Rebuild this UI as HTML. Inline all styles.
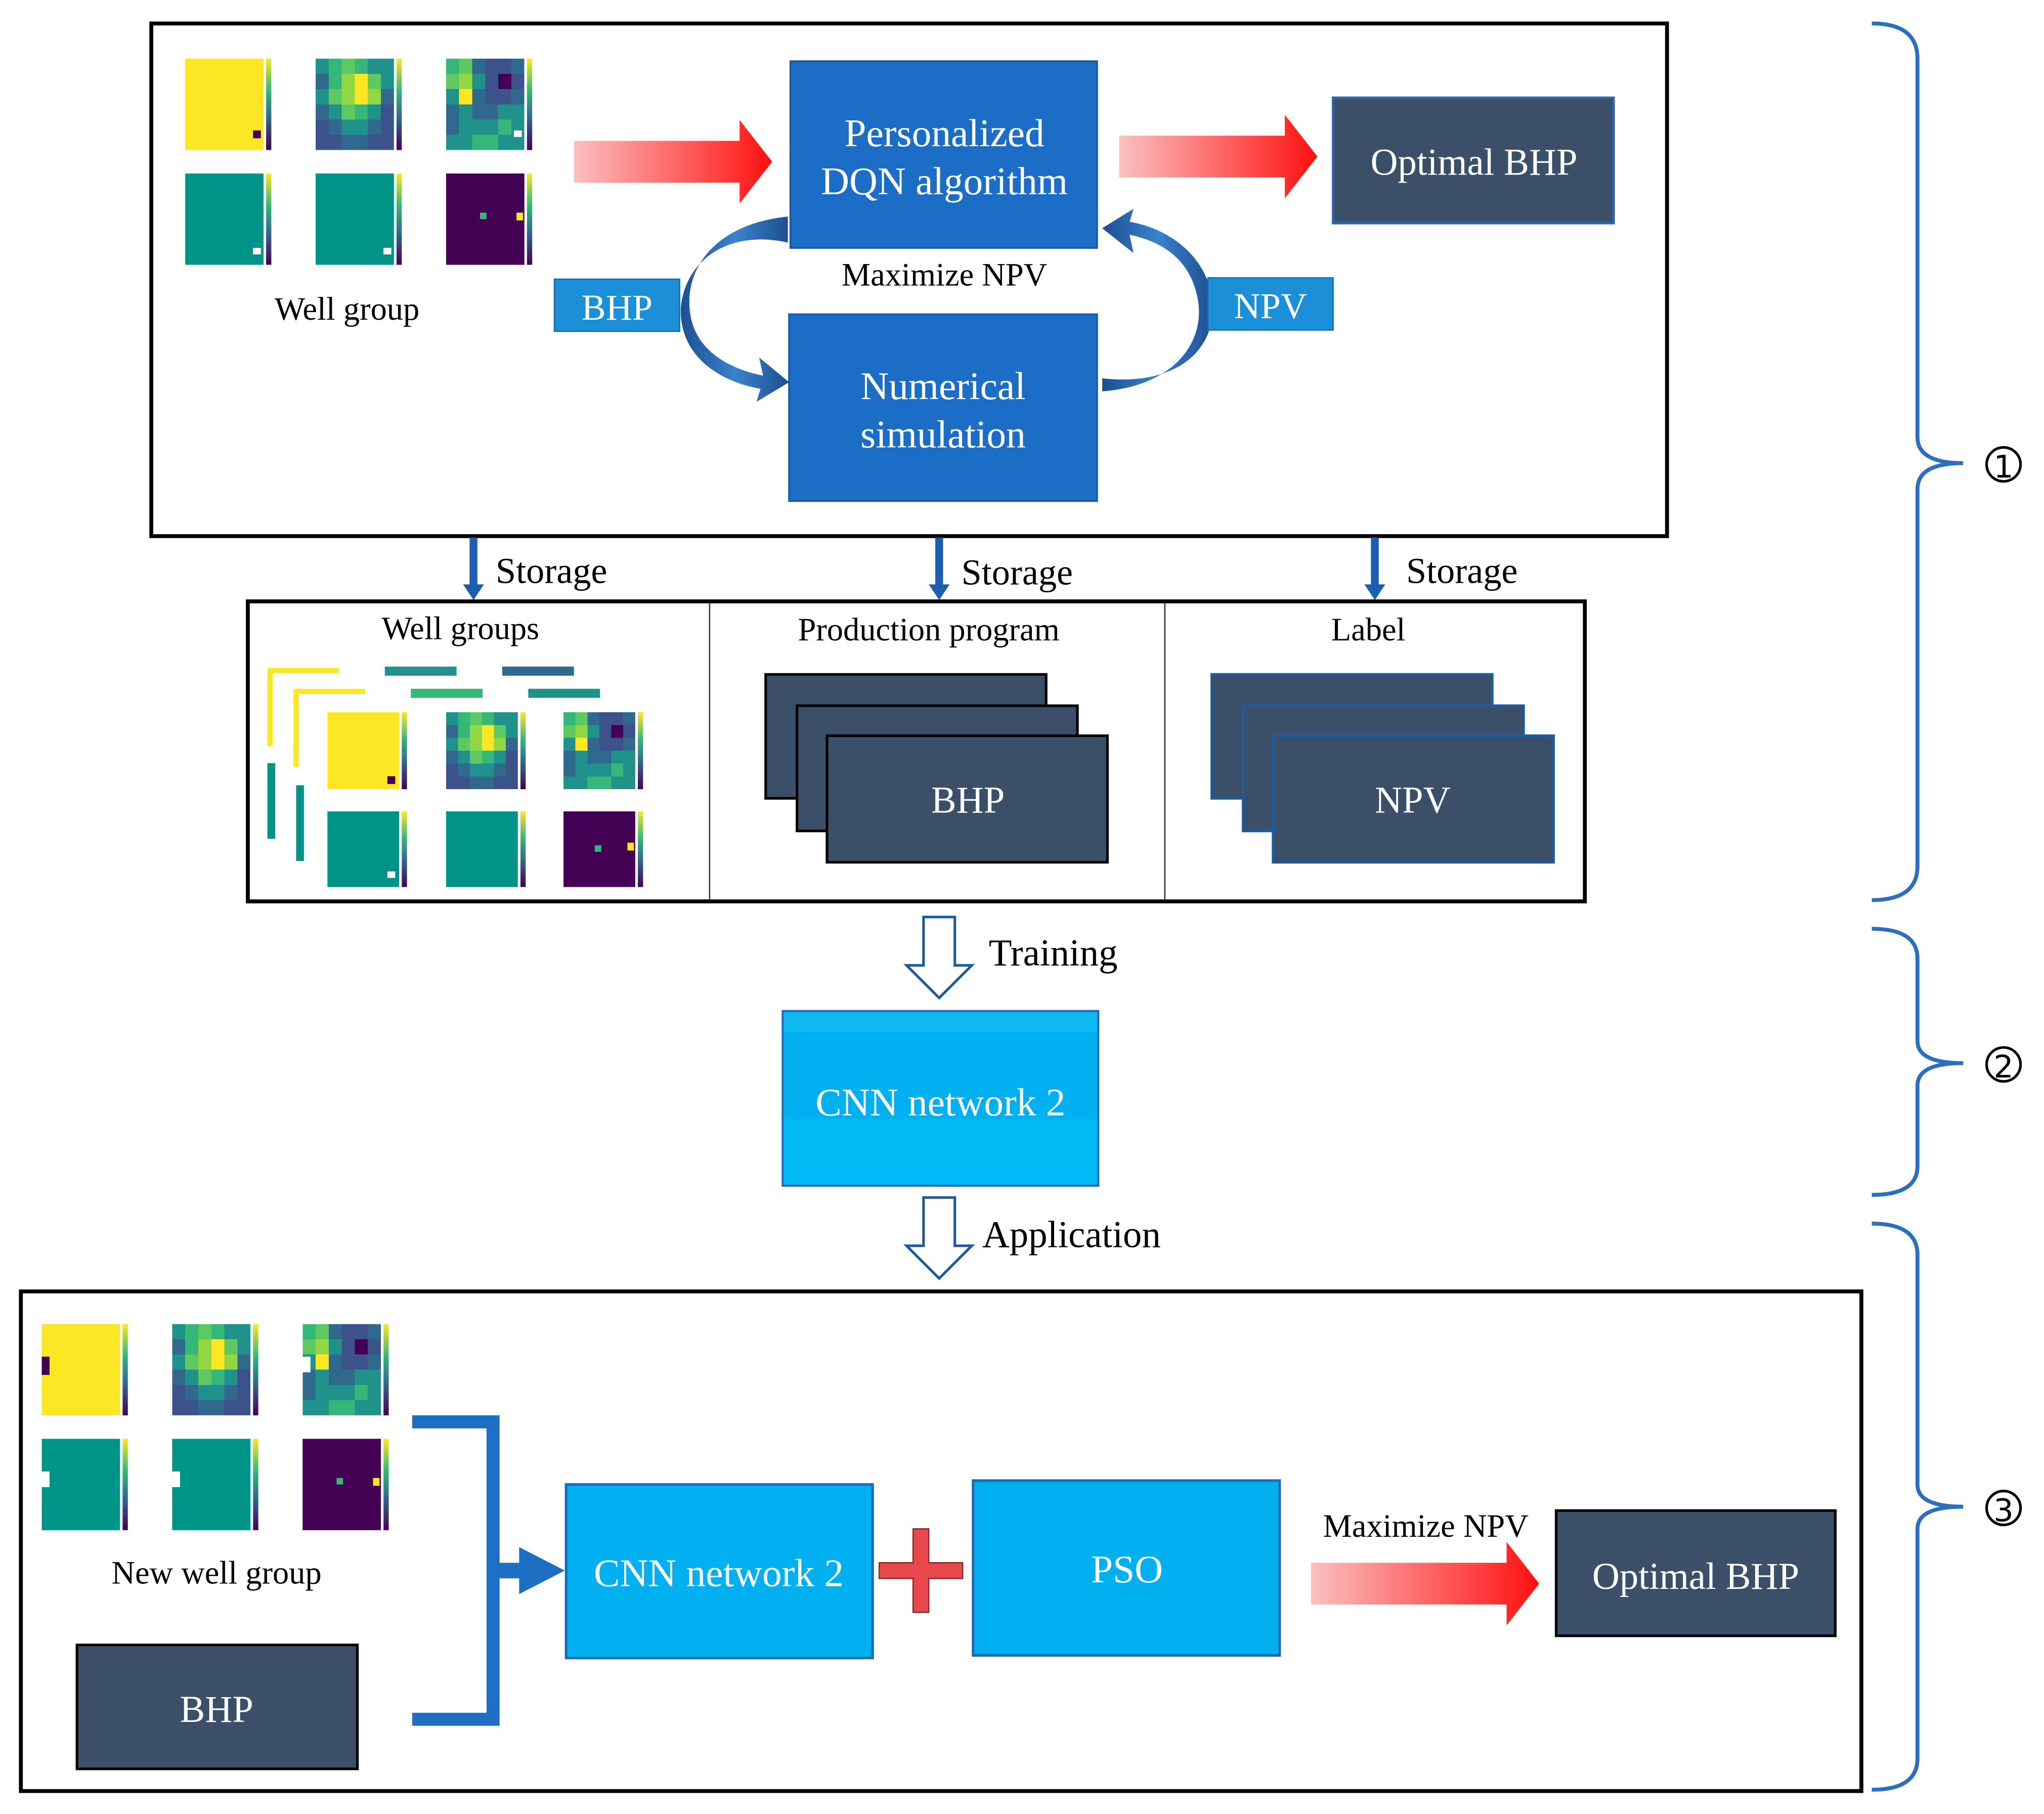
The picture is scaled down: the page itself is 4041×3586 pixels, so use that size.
<!DOCTYPE html>
<html><head><meta charset="utf-8"><style>
html,body{margin:0;padding:0;background:#fff;}
svg{display:block;}
text{font-family:"Liberation Serif",serif;}
</style></head><body>
<svg width="4041" height="3586" viewBox="0 0 1567 1390.6" preserveAspectRatio="none" xmlns="http://www.w3.org/2000/svg">
<defs>
<linearGradient id="red" x1="0" x2="1" y1="0" y2="0"><stop offset="0" stop-color="#fbc0c0"/><stop offset="1" stop-color="#ff1010"/></linearGradient>
<linearGradient id="vir" x1="0" x2="0" y1="1" y2="0"><stop offset="0" stop-color="#440154"/><stop offset="0.35" stop-color="#31688e"/><stop offset="0.65" stop-color="#35b779"/><stop offset="1" stop-color="#fde725"/></linearGradient>
<linearGradient id="curv" x1="0" x2="1"><stop offset="0" stop-color="#1d4f90"/><stop offset="0.5" stop-color="#3a82cc"/><stop offset="1" stop-color="#1d4f90"/></linearGradient>
<symbol id="hmA" viewBox="0 0 6 6" preserveAspectRatio="none">
<g shape-rendering="crispEdges">
<rect x="0" y="0" width="1" height="1" fill="#21918c"/><rect x="1" y="0" width="1" height="1" fill="#35b779"/><rect x="2" y="0" width="1" height="1" fill="#5ec962"/><rect x="3" y="0" width="1" height="1" fill="#35b779"/><rect x="4" y="0" width="1" height="1" fill="#21918c"/><rect x="5" y="0" width="1" height="1" fill="#21918c"/>
<rect x="0" y="1" width="1" height="1" fill="#31688e"/><rect x="1" y="1" width="1" height="1" fill="#35b779"/><rect x="2" y="1" width="1" height="1" fill="#90d743"/><rect x="3" y="1" width="1" height="1" fill="#fde725"/><rect x="4" y="1" width="1" height="1" fill="#5ec962"/><rect x="5" y="1" width="1" height="1" fill="#21918c"/>
<rect x="0" y="2" width="1" height="1" fill="#21918c"/><rect x="1" y="2" width="1" height="1" fill="#5ec962"/><rect x="2" y="2" width="1" height="1" fill="#90d743"/><rect x="3" y="2" width="1" height="1" fill="#fde725"/><rect x="4" y="2" width="1" height="1" fill="#90d743"/><rect x="5" y="2" width="1" height="1" fill="#31688e"/>
<rect x="0" y="3" width="1" height="1" fill="#31688e"/><rect x="1" y="3" width="1" height="1" fill="#21918c"/><rect x="2" y="3" width="1" height="1" fill="#5ec962"/><rect x="3" y="3" width="1" height="1" fill="#35b779"/><rect x="4" y="3" width="1" height="1" fill="#21918c"/><rect x="5" y="3" width="1" height="1" fill="#3b528b"/>
<rect x="0" y="4" width="1" height="1" fill="#3b528b"/><rect x="1" y="4" width="1" height="1" fill="#31688e"/><rect x="2" y="4" width="1" height="1" fill="#21918c"/><rect x="3" y="4" width="1" height="1" fill="#21918c"/><rect x="4" y="4" width="1" height="1" fill="#31688e"/><rect x="5" y="4" width="1" height="1" fill="#3b528b"/>
<rect x="0" y="5" width="1" height="1" fill="#3b528b"/><rect x="1" y="5" width="1" height="1" fill="#3b528b"/><rect x="2" y="5" width="1" height="1" fill="#31688e"/><rect x="3" y="5" width="1" height="1" fill="#31688e"/><rect x="4" y="5" width="1" height="1" fill="#3b528b"/><rect x="5" y="5" width="1" height="1" fill="#3b528b"/>
</g></symbol>
<symbol id="hmB" viewBox="0 0 6 6" preserveAspectRatio="none">
<g shape-rendering="crispEdges">
<rect x="0" y="0" width="1" height="1" fill="#35b779"/><rect x="1" y="0" width="1" height="1" fill="#5ec962"/><rect x="2" y="0" width="1" height="1" fill="#31688e"/><rect x="3" y="0" width="1" height="1" fill="#3b528b"/><rect x="4" y="0" width="1" height="1" fill="#3b528b"/><rect x="5" y="0" width="1" height="1" fill="#31688e"/>
<rect x="0" y="1" width="1" height="1" fill="#5ec962"/><rect x="1" y="1" width="1" height="1" fill="#90d743"/><rect x="2" y="1" width="1" height="1" fill="#21918c"/><rect x="3" y="1" width="1" height="1" fill="#3b528b"/><rect x="4" y="1" width="1" height="1" fill="#440154"/><rect x="5" y="1" width="1" height="1" fill="#3b528b"/>
<rect x="0" y="2" width="1" height="1" fill="#21918c"/><rect x="1" y="2" width="1" height="1" fill="#fde725"/><rect x="2" y="2" width="1" height="1" fill="#31688e"/><rect x="3" y="2" width="1" height="1" fill="#3b528b"/><rect x="4" y="2" width="1" height="1" fill="#3b528b"/><rect x="5" y="2" width="1" height="1" fill="#31688e"/>
<rect x="0" y="3" width="1" height="1" fill="#31688e"/><rect x="1" y="3" width="1" height="1" fill="#21918c"/><rect x="2" y="3" width="1" height="1" fill="#31688e"/><rect x="3" y="3" width="1" height="1" fill="#31688e"/><rect x="4" y="3" width="1" height="1" fill="#21918c"/><rect x="5" y="3" width="1" height="1" fill="#21918c"/>
<rect x="0" y="4" width="1" height="1" fill="#31688e"/><rect x="1" y="4" width="1" height="1" fill="#21918c"/><rect x="2" y="4" width="1" height="1" fill="#21918c"/><rect x="3" y="4" width="1" height="1" fill="#21918c"/><rect x="4" y="4" width="1" height="1" fill="#35b779"/><rect x="5" y="4" width="1" height="1" fill="#21918c"/>
<rect x="0" y="5" width="1" height="1" fill="#21918c"/><rect x="1" y="5" width="1" height="1" fill="#21918c"/><rect x="2" y="5" width="1" height="1" fill="#35b779"/><rect x="3" y="5" width="1" height="1" fill="#35b779"/><rect x="4" y="5" width="1" height="1" fill="#21918c"/><rect x="5" y="5" width="1" height="1" fill="#21918c"/>
</g></symbol>
<symbol id="set" viewBox="0 0 280 160" overflow="visible">
<rect x="0" y="0" width="60" height="70" fill="#fde725"/><rect x="62" y="0" width="4" height="70" fill="url(#vir)"/>
<use href="#hmA" x="100" y="0" width="60" height="70"/><rect x="162" y="0" width="4" height="70" fill="url(#vir)"/>
<use href="#hmB" x="200" y="0" width="60" height="70"/><rect x="262" y="0" width="4" height="70" fill="url(#vir)"/>
<rect x="0" y="88" width="60" height="70" fill="#009388"/><rect x="62" y="88" width="4" height="70" fill="url(#vir)"/>
<rect x="100" y="88" width="60" height="70" fill="#009388"/><rect x="162" y="88" width="4" height="70" fill="url(#vir)"/>
<rect x="200" y="88" width="60" height="70" fill="#440154"/><rect x="262" y="88" width="4" height="70" fill="url(#vir)"/>
<rect x="226" y="118" width="5" height="5" fill="#35b779"/><rect x="254" y="118" width="5" height="6" fill="#fde725"/>
</symbol>
</defs>

<rect x="116" y="18" width="1162" height="393" fill="#fff" stroke="#000" stroke-width="3"/>
<use href="#set" x="142" y="45" width="280" height="160"/>
<rect x="194" y="100" width="6" height="6" fill="#440154"/>
<rect x="194" y="190" width="6" height="5" fill="#fff"/><rect x="294" y="190" width="6" height="5" fill="#fff"/>
<rect x="394" y="100" width="6" height="5" fill="#fff"/>
<text x="266" y="245" font-size="25" text-anchor="middle">Well group</text>

<path d="M440,108 L567,108 L567,92 L592,124 L567,156 L567,140 L440,140 Z" fill="url(#red)"/>
<path d="M858,104 L985,104 L985,88 L1010,120 L985,152 L985,136 L858,136 Z" fill="url(#red)"/>

<rect x="606" y="47" width="235" height="143" fill="#1b6dc6" stroke="#1a5aa8" stroke-width="1.5"/>
<text x="724" y="112" font-size="30" fill="#fff" text-anchor="middle">Personalized</text>
<text x="724" y="149" font-size="30" fill="#fff" text-anchor="middle">DQN algorithm</text>

<rect x="1022" y="75" width="215" height="96" fill="#3b5068" stroke="#2a66b0" stroke-width="2"/>
<text x="1130" y="134" font-size="29" fill="#fff" text-anchor="middle">Optimal BHP</text>

<text x="724" y="219" font-size="25" text-anchor="middle">Maximize NPV</text>

<rect x="605" y="241" width="236" height="143" fill="#1b6dc6" stroke="#1a5aa8" stroke-width="1.5"/>
<text x="723" y="306" font-size="30" fill="#fff" text-anchor="middle">Numerical</text>
<text x="723" y="343" font-size="30" fill="#fff" text-anchor="middle">simulation</text>

<path d="M604,166 C545,172 522,210 530,245 C536,270 560,283 585,288 L582,274 L605,293 L580,308 L583,298 C548,292 520,270 522,235 C526,198 560,176 604,186 Z" fill="url(#curv)"/>
<path d="M845,300 C900,296 925,262 918,228 C912,198 890,185 866,180 L869,194 L845,175 L869,160 L866,170 C900,176 928,200 930,235 C930,272 898,296 845,290 Z" fill="url(#curv)"/>

<rect x="425" y="214" width="96" height="40" fill="#1b8fd8" stroke="#1a6ab0"/>
<text x="473" y="245" font-size="28" fill="#fff" text-anchor="middle">BHP</text>
<rect x="926" y="213" width="96" height="40" fill="#1b8fd8" stroke="#1a6ab0"/>
<text x="974" y="244" font-size="28" fill="#fff" text-anchor="middle">NPV</text>

<g fill="#1c5fb0">
<path d="M360,412 h6 v36 h5 l-8,12 l-8,-12 h5 Z"/>
<path d="M717,412 h6 v36 h5 l-8,12 l-8,-12 h5 Z"/>
<path d="M1051,412 h6 v36 h5 l-8,12 l-8,-12 h5 Z"/>
</g>
<text x="380" y="447" font-size="28">Storage</text>
<text x="737" y="448" font-size="28">Storage</text>
<text x="1078" y="447" font-size="28">Storage</text>

<rect x="190" y="461" width="1025" height="230" fill="#fff" stroke="#000" stroke-width="3"/>
<line x1="544" y1="462" x2="544" y2="690" stroke="#333" stroke-width="1"/>
<line x1="893" y1="462" x2="893" y2="690" stroke="#333" stroke-width="1"/>
<text x="353" y="490" font-size="25" text-anchor="middle">Well groups</text>
<text x="712" y="491" font-size="25" text-anchor="middle">Production program</text>
<text x="1049" y="491" font-size="25" text-anchor="middle">Label</text>

<rect x="205" y="512" width="55" height="60" fill="#fde725"/><rect x="209" y="516" width="51" height="56" fill="#fff"/>
<rect x="225" y="528" width="55" height="60" fill="#fde725"/><rect x="229" y="532" width="51" height="56" fill="#fff"/>
<rect x="295" y="511" width="55" height="7" fill="#21918c"/><rect x="315" y="528" width="55" height="7" fill="#35b779"/>
<rect x="385" y="511" width="55" height="7" fill="#31688e"/><rect x="405" y="528" width="55" height="7" fill="#21918c"/>
<rect x="205" y="585" width="6" height="58" fill="#009388"/><rect x="227" y="602" width="6" height="58" fill="#009388"/>
<rect x="251" y="546" width="55" height="59" fill="#fde725"/>
<use href="#hmA" x="342" y="546" width="55" height="59"/><use href="#hmB" x="432" y="546" width="55" height="59"/>
<rect x="308" y="546" width="4" height="59" fill="url(#vir)"/><rect x="399" y="546" width="4" height="59" fill="url(#vir)"/><rect x="489" y="546" width="4" height="59" fill="url(#vir)"/>
<rect x="251" y="622" width="55" height="58" fill="#009388"/><rect x="342" y="622" width="55" height="58" fill="#009388"/><rect x="432" y="622" width="55" height="58" fill="#440154"/>
<rect x="308" y="622" width="4" height="58" fill="url(#vir)"/><rect x="399" y="622" width="4" height="58" fill="url(#vir)"/><rect x="489" y="622" width="4" height="58" fill="url(#vir)"/>
<rect x="456" y="648" width="5" height="5" fill="#35b779"/><rect x="481" y="646" width="5" height="6" fill="#fde725"/>
<rect x="297" y="595" width="6" height="6" fill="#440154"/>
<rect x="297" y="668" width="6" height="5" fill="#fff"/>

<g fill="#3b5068" stroke="#000" stroke-width="2">
<rect x="587" y="517" width="215" height="95"/>
<rect x="611" y="541" width="215" height="96"/>
<rect x="634" y="564" width="215" height="97"/>
</g>
<text x="742" y="623" font-size="29" fill="#fff" text-anchor="middle">BHP</text>
<g fill="#3b5068" stroke="#1f5a9e" stroke-width="2">
<rect x="929" y="517" width="215" height="95"/>
<rect x="953" y="541" width="215" height="96"/>
<rect x="976" y="564" width="215" height="97"/>
</g>
<text x="1083" y="623" font-size="29" fill="#fff" text-anchor="middle">NPV</text>

<path d="M708,703 h24 v37 h13 l-25,25 l-25,-25 h13 Z" fill="#fff" stroke="#1f5a9e" stroke-width="2"/>
<text x="758" y="740" font-size="29">Training</text>

<rect x="600" y="775" width="242" height="134" fill="#00b0f0" stroke="#1d6bb5" stroke-width="1.5"/>
<rect x="601" y="776" width="240" height="15" fill="#10b8f2"/>
<rect x="601" y="858" width="240" height="50" fill="#02baf5"/>
<text x="721" y="855" font-size="30" fill="#fff" text-anchor="middle">CNN network 2</text>

<path d="M708,918 h24 v37 h13 l-25,25 l-25,-25 h13 Z" fill="#fff" stroke="#1f5a9e" stroke-width="2"/>
<text x="753" y="956" font-size="29">Application</text>

<rect x="16" y="990" width="1411" height="383" fill="#fff" stroke="#000" stroke-width="3"/>
<use href="#set" x="32" y="1015" width="280" height="160"/>
<rect x="32" y="1040" width="6" height="14" fill="#440154"/>
<rect x="32" y="1128" width="6" height="12" fill="#fff"/><rect x="132" y="1128" width="6" height="12" fill="#fff"/><rect x="232" y="1040" width="6" height="12" fill="#fff"/>
<text x="166" y="1214" font-size="25" text-anchor="middle">New well group</text>

<rect x="59" y="1261" width="215" height="95" fill="#3b5068" stroke="#000" stroke-width="2"/>
<text x="166" y="1320" font-size="29" fill="#fff" text-anchor="middle">BHP</text>

<path d="M316,1090 H378 V1318 H316" fill="none" stroke="#1d6fc4" stroke-width="10"/>
<path d="M378,1198 H398 V1186 L433,1204 L398,1222 V1210 H378 Z" fill="#1d6fc4"/>

<rect x="434" y="1138" width="235" height="133" fill="#00b0f0" stroke="#1d6bb5" stroke-width="2"/>
<text x="551" y="1216" font-size="30" fill="#fff" text-anchor="middle">CNN network 2</text>

<path d="M700,1172 h12 v26 h26 v12 h-26 v26 h-12 v-26 h-26 v-12 h26 Z" fill="#e8474c" stroke="#8a2a2a" stroke-width="1"/>

<rect x="746" y="1135" width="235" height="134" fill="#00b0f0" stroke="#1d6bb5" stroke-width="2"/>
<text x="864" y="1213" font-size="30" fill="#fff" text-anchor="middle">PSO</text>

<text x="1093" y="1178" font-size="25" text-anchor="middle">Maximize NPV</text>
<path d="M1005,1198 L1155,1198 L1155,1182 L1180,1214 L1155,1246 L1155,1230 L1005,1230 Z" fill="url(#red)"/>

<rect x="1193" y="1158" width="214" height="96" fill="#3b5068" stroke="#000" stroke-width="2"/>
<text x="1300" y="1218" font-size="29" fill="#fff" text-anchor="middle">Optimal BHP</text>

<g fill="none" stroke="#2a6fc0" stroke-width="3">
<path d="M1435,18 Q1470,18 1470,45 L1470,335 Q1470,355 1505,355 Q1470,355 1470,375 L1470,664 Q1470,690 1435,690"/>
<path d="M1435,712 Q1470,712 1470,735 L1470,798 Q1470,815 1505,815 Q1470,815 1470,832 L1470,894 Q1470,916 1435,916"/>
<path d="M1435,938 Q1470,938 1470,962 L1470,1138 Q1470,1155 1505,1155 Q1470,1155 1470,1172 L1470,1348 Q1470,1372 1435,1372"/>
</g>
<g text-anchor="middle">
<circle cx="1536" cy="356" r="13" fill="none" stroke="#000" stroke-width="2"/><text x="1536" y="366" font-size="24" style="font-family:'DejaVu Sans',sans-serif">1</text>
<circle cx="1536" cy="816" r="13" fill="none" stroke="#000" stroke-width="2"/><text x="1536" y="826" font-size="24" style="font-family:'DejaVu Sans',sans-serif">2</text>
<circle cx="1536" cy="1156" r="13" fill="none" stroke="#000" stroke-width="2"/><text x="1536" y="1166" font-size="24" style="font-family:'DejaVu Sans',sans-serif">3</text>
</g>
</svg>
</body></html>
